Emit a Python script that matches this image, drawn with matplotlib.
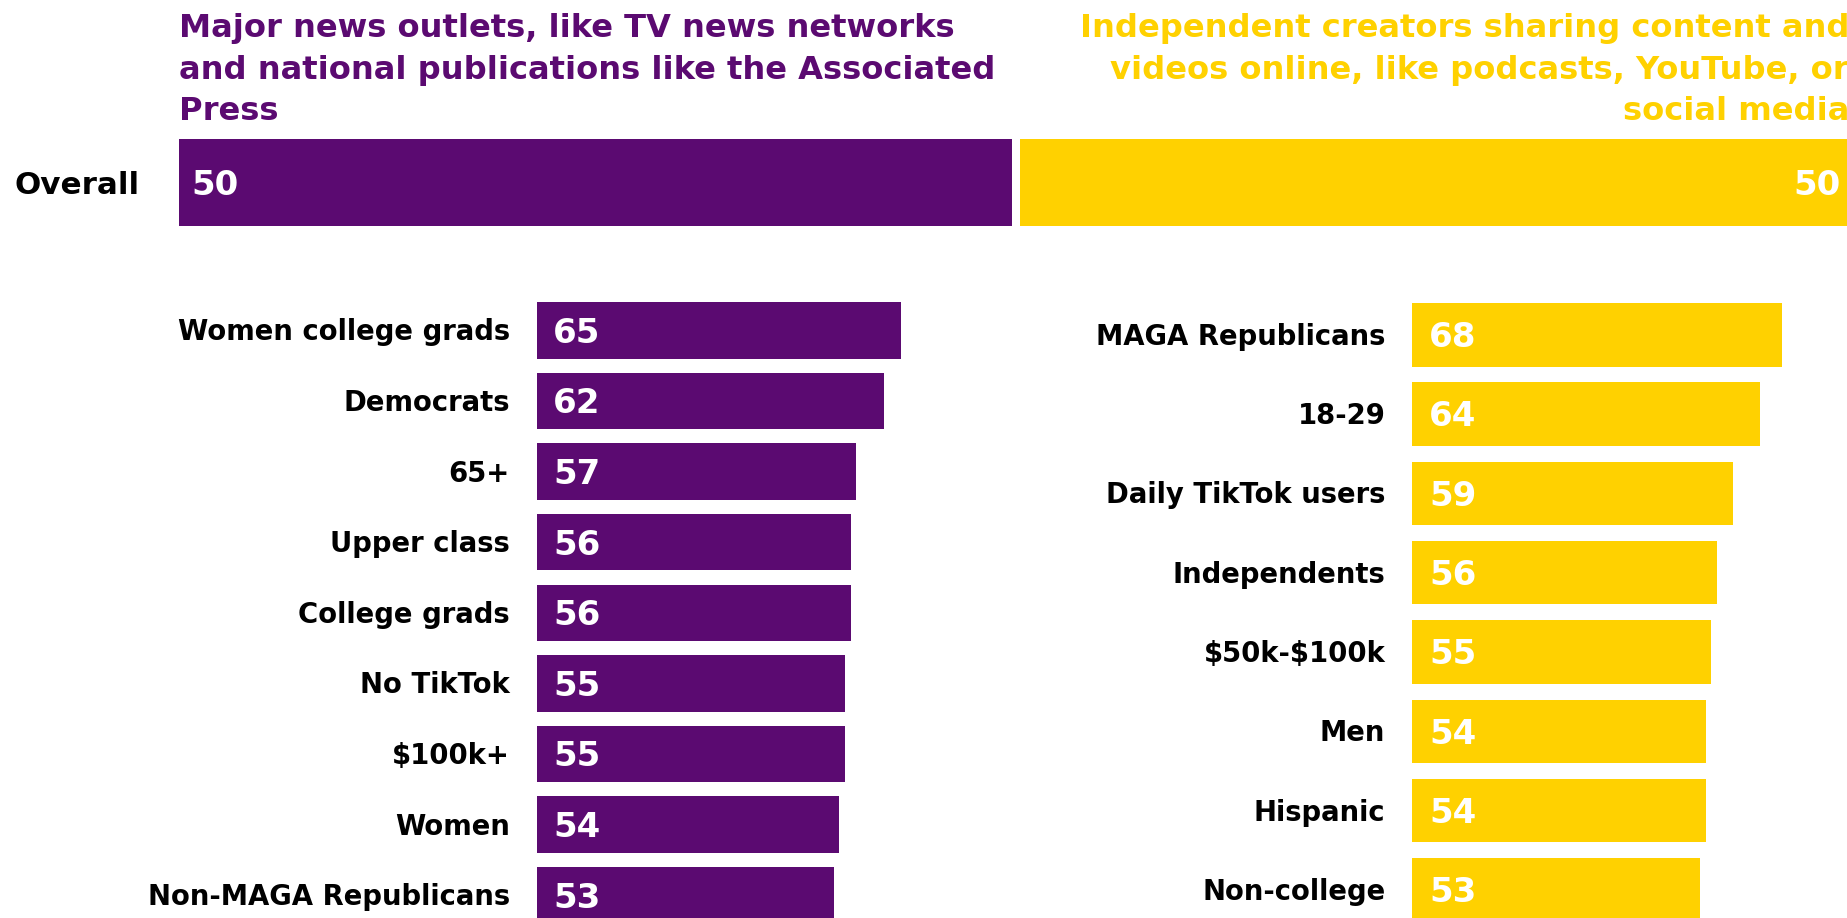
import matplotlib.pyplot as plt

plt.rcParams['font.family'] = ['DejaVu Sans']

PURPLE = '#5B0A71'
YELLOW = '#FFD100'

# Overall split and the two column headers
overall_values = [50, 50]
left_title = ["Major news outlets, like TV news networks",
              "and national publications like the Associated",
              "Press"]
right_title = ["Independent creators sharing content and",
               "videos online, like podcasts, YouTube, or",
               "social media"]

# Groups leaning to each side
left_groups = ["Women college grads", "Democrats", "65+", "Upper class",
               "College grads", "No TikTok", "$100k+", "Women",
               "Non-MAGA Republicans"]
left_values = [65, 62, 57, 56, 56, 55, 55, 54, 53]

right_groups = ["MAGA Republicans", "18-29", "Daily TikTok users",
                "Independents", "$50k-$100k", "Men", "Hispanic",
                "Non-college"]
right_values = [68, 64, 59, 56, 55, 54, 54, 53]

W, H = 1847, 918
PT = 0.72          # points per pixel at dpi 100
CAP = 0.729        # cap height of the font, in em
TITLE_FS = 23.1
OVERALL_FS = 22.3
LABEL_FS = 19.8
VALUE_FS = 24.5

fig = plt.figure(figsize=(W / 100, H / 100), dpi=100)


def panel(x0, y0, x1, y1):
    ax = fig.add_axes([x0 / W, 1 - y1 / H, (x1 - x0) / W, (y1 - y0) / H])
    ax.axis('off')
    return ax


def put(ax, x, y, s, dx, size, ha, color):
    # baseline shifted down so the capitals sit centred on y
    ax.annotate(s, (x, y), xytext=(dx * PT, -size * CAP / 2),
                textcoords='offset points', ha=ha, va='baseline',
                fontsize=size, fontweight='bold', color=color,
                parse_math=False, annotation_clip=False)


# headers
for i, line in enumerate(left_title):
    fig.text(179 / W, 1 - (37.3 + 41.3 * i) / H, line, ha='left',
             va='baseline', fontsize=TITLE_FS, fontweight='bold',
             color=PURPLE)
for i, line in enumerate(right_title):
    fig.text(1849 / W, 1 - (37.3 + 41.3 * i) / H, line, ha='right',
             va='baseline', fontsize=TITLE_FS, fontweight='bold',
             color=YELLOW)

# overall bar
ax0 = panel(179, 139, 1853, 225.7)
ax0.set_xlim(0, sum(overall_values))
ax0.set_ylim(-0.5, 0.5)
start = 0
for v, c in zip(overall_values, [PURPLE, YELLOW]):
    ax0.barh(0, v, left=start, height=1, color=c)
    start += v
ax0.axvline(overall_values[0], color='white', lw=8 * PT)
put(ax0, 0, 0, 'Overall', -39, OVERALL_FS, 'right', 'black')
put(ax0, 0, 0, str(overall_values[0]), 12.3, VALUE_FS, 'left', 'white')
put(ax0, sum(overall_values), 0, str(overall_values[1]), -12.5,
    VALUE_FS, 'right', 'white')

# left column
axL = panel(537, 295.15, 929, 918)
axL.set_xlim(0, 70)
axL.set_ylim(8.323, -0.5)
axL.barh(range(len(left_values)), left_values, height=0.8, color=PURPLE)
for i, (g, v) in enumerate(zip(left_groups, left_values)):
    put(axL, 0, i, g, -27, LABEL_FS, 'right', 'black')
    put(axL, 0, i, str(v), 16, VALUE_FS, 'left', 'white')

# right column
axR = panel(1412.3, 295.15, 1847, 918)
axR.set_xlim(0, 80)
axR.set_ylim(7.355, -0.5)
axR.barh(range(len(right_values)), right_values, height=0.8, color=YELLOW)
for i, (g, v) in enumerate(zip(right_groups, right_values)):
    put(axR, 0, i, g, -27, LABEL_FS, 'right', 'black')
    put(axR, 0, i, str(v), 17, VALUE_FS, 'left', 'white')

fig.savefig('out.png', dpi=100)
